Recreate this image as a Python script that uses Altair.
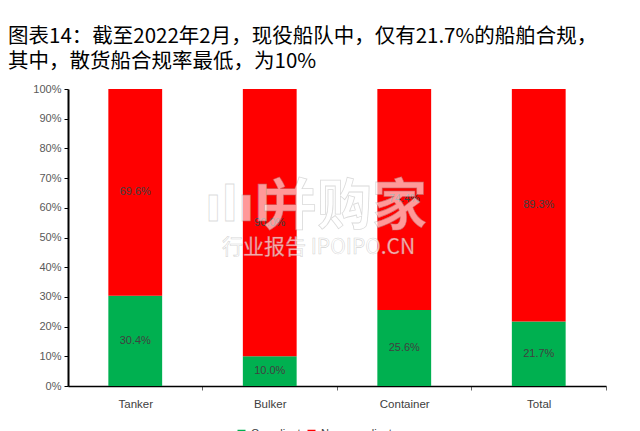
import altair as alt
import pandas as pd

categories = ["Tanker", "Bulker", "Container", "Total"]
compliant = [30.4, 10.0, 25.6, 21.7]
non_compliant = [69.6, 90.0, 74.4, 78.3]
compliant_labels = ["30.4%", "10.0%", "25.6%", "21.7%"]
non_compliant_labels = ["69.6%", "90.0%", "74.4%", "89.3%"]
series_names = ["Compliant", "Non-compliant"]
series_colors = ["#00B050", "#FF0000"]
title_lines = ["图表14：截至2022年2月，现役船队中，仅有21.7%的船舶合规，", "其中，散货船合规率最低，为10%"]
y_ticks = [0.0, 0.1, 0.2, 0.3, 0.4, 0.5, 0.6, 0.7, 0.8, 0.9, 1.0]

rows = []
for i, c in enumerate(categories):
    rows.append({"cat": c, "series": series_names[0], "v": compliant[i] / 100,
                 "lab": compliant_labels[i], "ord": 0})
    rows.append({"cat": c, "series": series_names[1], "v": non_compliant[i] / 100,
                 "lab": non_compliant_labels[i], "ord": 1})
df = pd.DataFrame(rows)

FONT = "Liberation Sans"

x_axis = alt.Axis(labelAngle=0, labelFont=FONT, labelFontSize=11.5, labelColor="#404040",
                  domainColor="#000000", domainWidth=1.5, tickColor="#666666",
                  tickSize=4, tickOffset=67, labelOffset=-67, labelPadding=8)
y_axis = alt.Axis(format=".0%", values=y_ticks, grid=False, labelOverlap=False,
                  labelFont=FONT, labelFontSize=11, labelColor="#595959",
                  domainColor="#000000", domainWidth=2, tickColor="#000000",
                  tickSize=4, labelPadding=3, minExtent=60)
x_scale = alt.Scale(paddingInner=0.6, paddingOuter=0.3)
y_scale = alt.Scale(domain=[0, 1])

bars = alt.Chart(df).mark_bar().encode(
    x=alt.X("cat:N", sort=categories, title=None, scale=x_scale, axis=x_axis),
    y=alt.Y("v:Q", stack="zero", title=None, scale=y_scale, axis=y_axis),
    color=alt.Color("series:N", sort=series_names,
                    scale=alt.Scale(domain=series_names, range=series_colors),
                    legend=alt.Legend(title=None, orient="none", direction="horizontal",
                                      legendX=168, legendY=339,
                                      symbolType="square", symbolSize=64, labelFont=FONT,
                                      labelFontSize=11, labelColor="#404040",
                                      columnPadding=5)),
    order=alt.Order("ord:Q"),
)

labels = alt.Chart(df).mark_text(font=FONT, fontSize=11, color="#404040").encode(
    x=alt.X("cat:N", sort=categories, title=None, scale=x_scale, axis=x_axis),
    y=alt.Y("v:Q", stack="zero", bandPosition=0.5, title=None, scale=y_scale, axis=y_axis),
    text="lab:N",
    order=alt.Order("ord:Q"),
)

wm0 = alt.Chart(pd.DataFrame({"t": ["ılıl"]})).mark_text(
    font="DejaVu Sans", fontSize=48, fontWeight="bold", color="#ffffff", opacity=0.6,
    stroke="#999999", strokeWidth=0.8, strokeOpacity=0.6, align="left", baseline="middle"
).encode(x=alt.value(137), y=alt.value(118), text="t:N")
wm1 = alt.Chart(pd.DataFrame({"t": ["并购家"]})).mark_text(
    font="Noto Sans CJK SC", fontSize=55, fontWeight="bold", color="#ffffff", opacity=0.6,
    stroke="#999999", strokeWidth=0.8, strokeOpacity=0.6, align="left", baseline="middle"
).encode(x=alt.value(194), y=alt.value(118), text="t:N")
wm2 = alt.Chart(pd.DataFrame({"t": ["行业报告 IPOIPO.CN"]})).mark_text(
    font="Noto Sans CJK SC", fontSize=21, color="#ffffff", opacity=0.7,
    stroke="#999999", strokeWidth=0.6, strokeOpacity=0.6, align="left", baseline="middle"
).encode(x=alt.value(154), y=alt.value(159), text="t:N")

chart = alt.layer(bars, labels, wm0, wm1, wm2).properties(
    width=538, height=297,
    padding={"left": 0, "top": 18, "right": 0, "bottom": 0},
    title=alt.TitleParams(title_lines, anchor="start", frame="bounds", font="Noto Sans CJK SC",
                          fontSize=20.5, fontWeight="normal", color="#000000", offset=11,
                          lineHeight=25),
).configure_view(stroke=None)

chart.save("out.html", embed_options={"renderer": "svg", "actions": False})
